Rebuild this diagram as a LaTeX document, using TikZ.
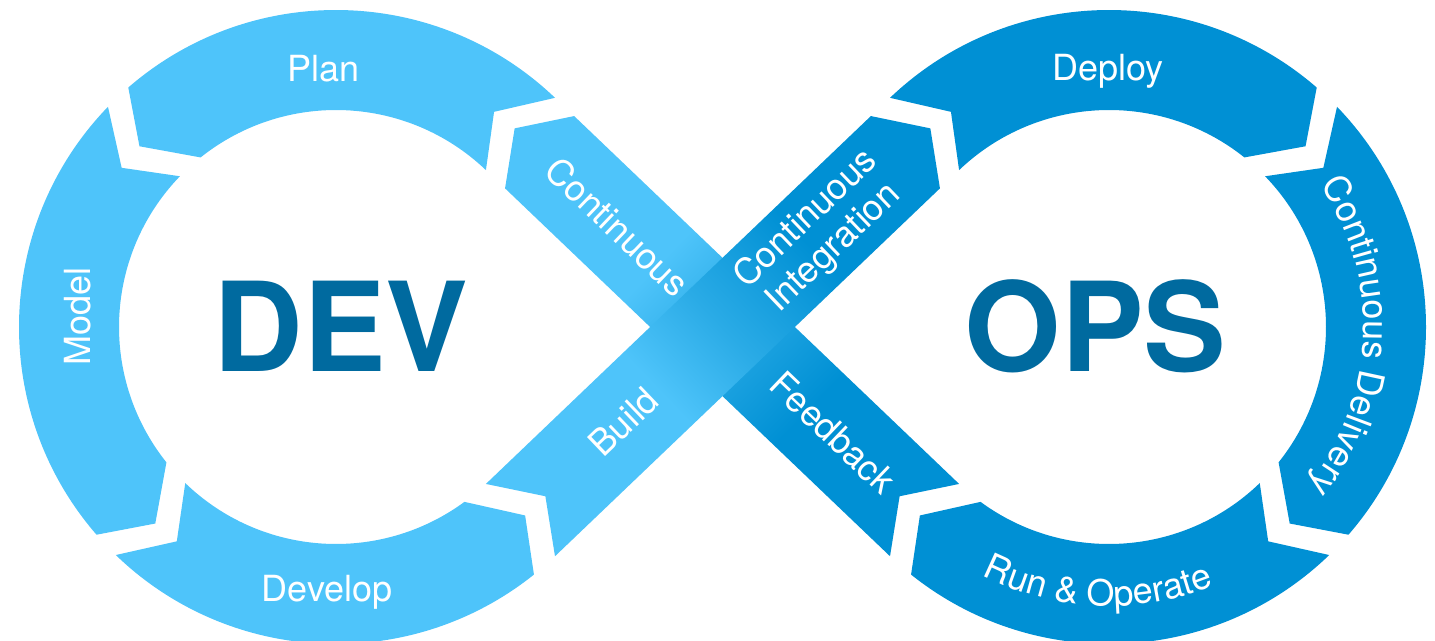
\documentclass[tikz,border=0pt]{standalone}
\usepackage{fontspec}
\setmainfont{TeX Gyre Heros}
\usetikzlibrary{decorations.text}
\definecolor{lightblue}{HTML}{4EC4FA}
\definecolor{darkblue}{HTML}{0090D4}
\definecolor{midblue}{HTML}{2AABE6}
\definecolor{devtxt}{HTML}{006A9F}
\pgfdeclarehorizontalshading{stripAB}{100bp}{color(0bp)=(lightblue); color(41.7bp)=(lightblue); color(49.65bp)=(midblue); color(60.2bp)=(darkblue); color(100bp)=(darkblue)}
\pgfdeclarehorizontalshading{stripBA}{100bp}{color(0bp)=(darkblue); color(39.1bp)=(darkblue); color(49.65bp)=(midblue); color(57.6bp)=(lightblue); color(100bp)=(lightblue)}
% ring segment: #1 start (notch) angle, #2 next notch angle, #3 colour
\newcommand{\arcseg}[3]{%
  \pgfmathsetmacro\aTo{#2-5.06}%
  \pgfmathsetmacro\aTm{#2+1.4}%
  \pgfmathsetmacro\aTi{#2-7.4}%
  \pgfmathsetmacro\aNm{#1+7.4}%
  \fill[#3] (#1:317) arc[start angle=#1, end angle=\aTo, radius=317]
    -- (\aTm:267) -- (\aTi:217)
    arc[start angle=\aTi, end angle=#1, radius=217]
    -- (\aNm:267) -- cycle;}
\newcommand{\stripshape}{(-279.5,-50) -- (253,-50) -- (287.5,0) -- (253,50) -- (-279.5,50) -- (-245,0) -- cycle}
\begin{document}
\begin{tikzpicture}[x=1pt,y=1pt,
  lbl/.style={text=white, font=\fontsize{36}{40}\selectfont, inner sep=0pt},
  bigword/.style={text=devtxt, font=\fontsize{124}{130}\selectfont\bfseries, inner sep=0pt},
  curvetext/.style={decorate, decoration={text along path, text align=center, text color=white, text={|\fontsize{36}{40}\selectfont|#1}}}]
\path[use as bounding box, fill=white] (0,0) rectangle (1435,640);
\clip (0,0) rectangle (1435,640);
% left ring (DEV)
\begin{scope}[shift={(336,313)}]
  \arcseg{46.3}{136}{lightblue}
  \arcseg{136}{226}{lightblue}
  \arcseg{226}{313.7}{lightblue}
\end{scope}
% right ring (OPS), mirror image
\begin{scope}[shift={(1109,313)}, xscale=-1]
  \arcseg{46.3}{136}{darkblue}
  \arcseg{136}{226}{darkblue}
  \arcseg{226}{313.7}{darkblue}
\end{scope}
% strip Feedback -> Continuous (under)
\begin{scope}[transform canvas={shift={(722.5,313)}, xscale=-1, rotate=43.7}]
  \shade[shading=stripBA] \stripshape;
\end{scope}
% strip Build -> Continuous Integration (over)
\begin{scope}[transform canvas={shift={(722.5,313)}, rotate=43.7}]
  \shade[shading=stripAB] \stripshape;
\end{scope}
% labels
\node[lbl, anchor=base] (plan) at (323.6,558.4) {Plan};
\node[lbl, anchor=base, rotate=90] (model) at (90,323.3) {Model};
\node[lbl, anchor=base] (develop) at (327,38.3) {Develop};
\node[lbl, anchor=base] (deploy) at (1108,559.2) {Deploy};
\node[bigword, anchor=base] (dev) at (341,268.3) {DEV};
\node[bigword, anchor=base] (ops) at (1095.6,268.5) {OPS};
\node[lbl, rotate=43.7] (build) at (623.5,218.3) {Build};
\node[lbl, rotate=43.7, align=center] (ci) at (820.1,406.3) {Continuous\\Integration};
\node[lbl, rotate=-43.7] (cont) at (617.7,413.2) {Continuous};
\node[lbl, rotate=-43.7] (feedback) at (833.1,207.3) {Feedback};
\path[curvetext={Continuous Delivery}] ([shift={(1109,313)}]37.7:254.5) arc[start angle=37.7, end angle=-42.3, radius=254.5];
\path[curvetext={Run {\&} Operate}] ([shift={(1109,313)}]232.5:279) arc[start angle=232.5, end angle=302.5, radius=279];
\end{tikzpicture}
\end{document}
